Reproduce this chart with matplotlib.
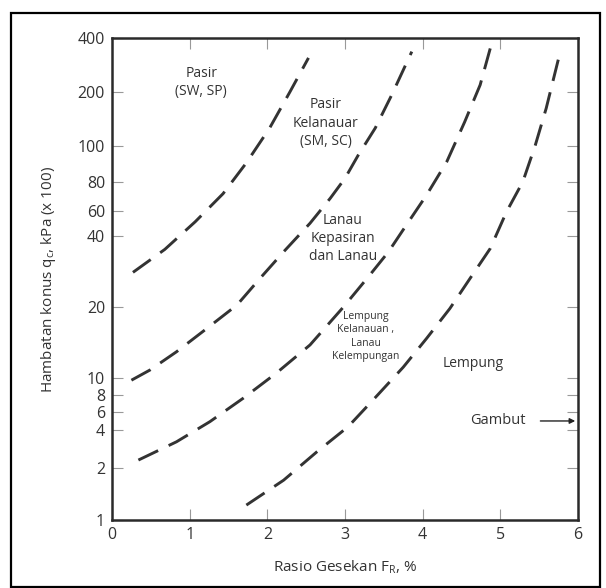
import matplotlib
matplotlib.use("Agg")
import matplotlib.pyplot as plt
import numpy as np
from matplotlib.patches import Rectangle

plt.rcParams['font.family'] = ['Open Sans', 'DejaVu Sans']
plt.rcParams['mathtext.fontset'] = 'custom'
plt.rcParams['mathtext.rm'] = 'Open Sans'
plt.rcParams['mathtext.it'] = 'Open Sans:italic'

# y tick values of the printed chart and where they sit (fraction of axis height);
# the printed scale is not a true log scale, so it is rebuilt piece by piece
y_ticks = [1, 2, 4, 6, 8, 10, 20, 40, 60, 80, 100, 200, 400]
y_tick_frac = [0, 0.108, 0.187, 0.224, 0.259, 0.295, 0.442, 0.590, 0.642, 0.702, 0.776, 0.888, 1.0]
x_ticks = [0, 1, 2, 3, 4, 5, 6]

# boundary curves: friction ratio (%) vs cone resistance (x 100 kPa)
c1_x = [0.27, 0.68, 1.07, 1.43, 1.73, 2.03, 2.29, 2.53]
c1_y = [28, 35, 50, 71, 90, 126, 200, 310]

c2_x = [0.25, 0.49, 0.83, 1.22, 1.61, 1.91, 2.21, 2.55, 2.81, 3.00, 3.17, 3.39, 3.60, 3.86]
c2_y = [9.7, 10.8, 12.9, 16.2, 20.4, 26.5, 34.2, 48.9, 67.8, 81.7, 94.4, 126, 192, 336]

c3_x = [0.34, 0.83, 1.26, 1.69, 2.12, 2.55, 2.98, 3.32, 3.56, 3.79, 4.05, 4.31, 4.54, 4.74, 4.87]
c3_y = [2.31, 3.22, 4.82, 7.6, 10.5, 13.8, 20.0, 27.3, 34.2, 47.5, 70, 90.6, 136, 219, 350]

c4_x = [1.73, 2.21, 2.64, 3.04, 3.36, 3.75, 4.05, 4.35, 4.64, 4.87, 5.08, 5.29, 5.45, 5.59, 5.75]
c4_y = [1.22, 1.70, 2.69, 4.30, 7.36, 11.1, 14.7, 19.7, 27.3, 35.3, 58.9, 80, 101, 162, 308]

labels = ["Pasir\n(SW, SP)", "Pasir\nKelanauar\n(SM, SC)", "Lanau\nKepasiran\ndan Lanau",
          "Lempung\nKelanauan ,\nLanau\nKelempungan", "Lempung", "Gambut"]
label_x = [1.15, 2.75, 2.97, 3.27, 4.65, 4.97]
label_y = [226, 134, 38.9, 15.0, 11.5, 4.9]
label_size = [10, 10, 10, 7.5, 10, 10.5]

log_ticks = np.log10(y_ticks)


def fwd(v):
    v = np.clip(np.asarray(v, dtype=float), 1e-6, None)
    return np.interp(np.log10(v), log_ticks, y_tick_frac)


def inv(f):
    return 10 ** np.interp(f, y_tick_frac, log_ticks)


fig = plt.figure(figsize=(6.06, 5.88), dpi=100)
ax = fig.add_axes([0.1848, 0.1156, 0.769, 0.8197])
ax.set_yscale('function', functions=(fwd, inv))
ax.set_xlim(0, 6)
ax.set_ylim(1, 400)

line_col = '#333333'
for cx, cy in [(c1_x, c1_y), (c2_x, c2_y), (c3_x, c3_y), (c4_x, c4_y)]:
    ax.plot(cx, cy, color=line_col, lw=2.1, linestyle=(0, (7.5, 4)), solid_capstyle='butt')

ax.set_xticks(x_ticks)
ax.set_yticks(y_ticks)
ax.set_yticklabels([str(v) for v in y_ticks])
ax.minorticks_off()
ax.tick_params(direction='in', length=8, width=0.8, color='#999999', labelsize=11.5,
               labelcolor='#333333', top=True, right=True, pad=5)

for s in ax.spines.values():
    s.set_linewidth(1.8)
    s.set_color('#2a2a2a')

for t, x, y, sz in zip(labels, label_x, label_y, label_size):
    ax.text(x, y, t, ha='center', va='center', fontsize=sz, color='#333333', linespacing=1.3)

ax.annotate("", xy=(6.0, label_y[-1]), xytext=(5.48, label_y[-1]),
            arrowprops=dict(arrowstyle='-|>', color='#222222', lw=1.0, mutation_scale=8))

ax.set_ylabel(r"Hambatan konus $\mathregular{q_c}$, kPa (x 100)", fontsize=11, color='#333333', labelpad=14)
ax.set_xlabel(r"Rasio Gesekan $\mathregular{F_R}$, %", fontsize=11, color='#333333', labelpad=11)

fig.patches.append(Rectangle((11 / 606, 1 - 587 / 588), 589 / 606, 574 / 588, transform=fig.transFigure,
                             fill=False, edgecolor='black', lw=1.6))

fig.savefig("out.png", dpi=100)
